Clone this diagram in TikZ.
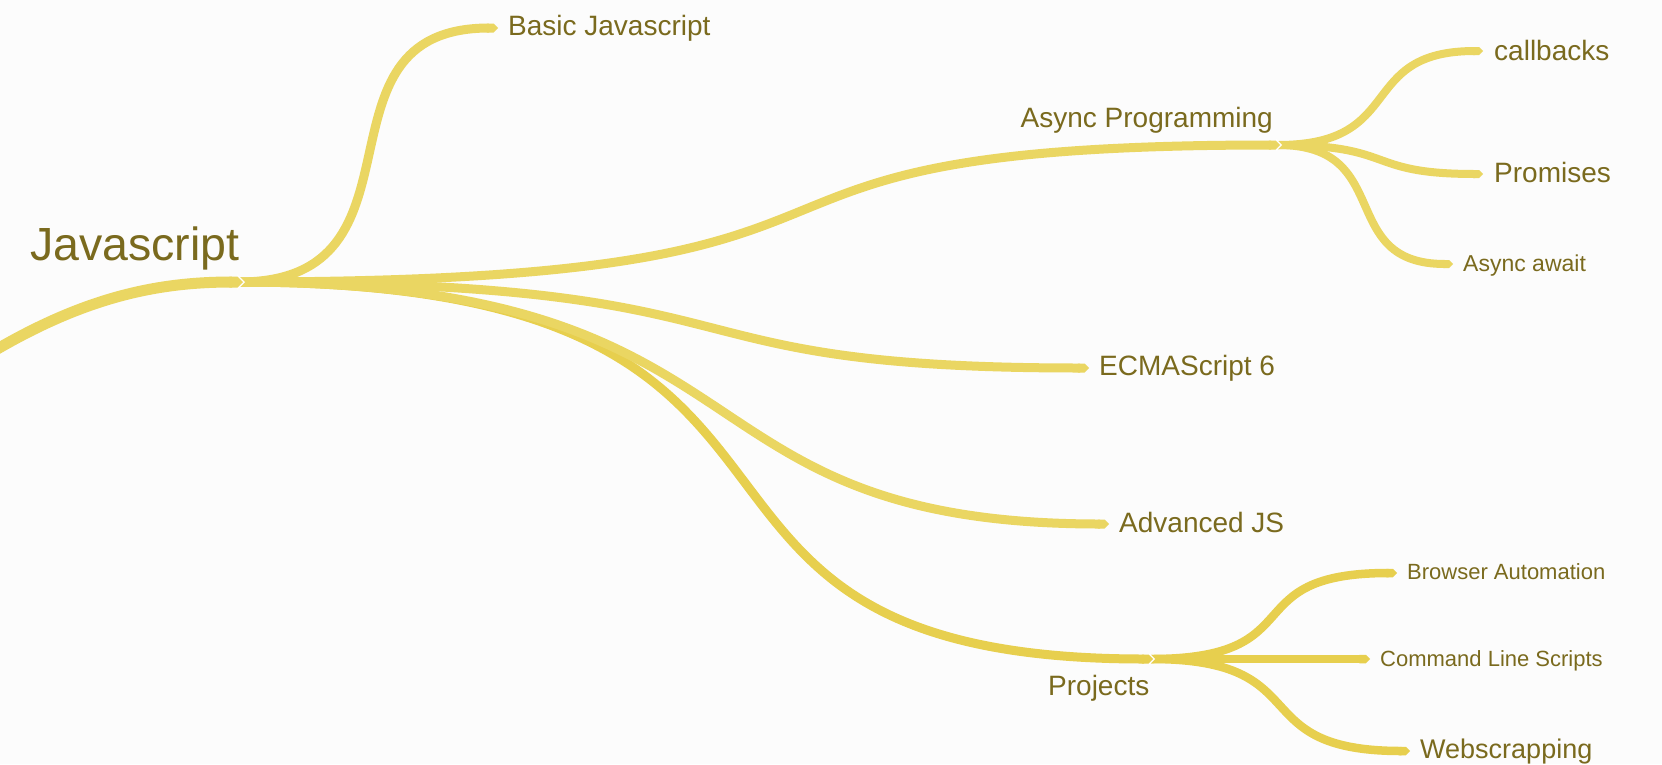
\documentclass[tikz,border=0pt]{standalone}
\usepackage{fontspec}
\setmainfont{Liberation Sans}
\usetikzlibrary{arrows.meta}
\definecolor{bgc}{RGB}{252,252,252}
\definecolor{lnc}{RGB}{234,214,98}
\definecolor{prc}{RGB}{231,207,78}
\definecolor{txc}{RGB}{122,106,30}
\begin{document}
\begin{tikzpicture}[x=1pt,y=-1pt,
  rootln/.style={draw=lnc, line width=11pt, -{Triangle Cap[]}},
  brA/.style={draw=lnc, line width=9pt, -{Triangle Cap[]}},
  brP/.style={draw=prc, line width=9pt, -{Triangle Cap[]}},
  brB/.style={draw=lnc, line width=8pt, -{Triangle Cap[]}},
  brQ/.style={draw=prc, line width=8.5pt, -{Triangle Cap[]}},
  notch/.style={fill=white, draw=none},
  lbl/.style={text=txc, inner sep=0pt, anchor=base west},
  fbig/.style={font=\fontsize{46.5}{50}\selectfont},
  fmid/.style={font=\fontsize{28}{32}\selectfont},
  fsm/.style={font=\fontsize{22}{26}\selectfont},
]
\fill[bgc] (0,0) rectangle (1662,764);
\useasboundingbox (0,0) rectangle (1662,764);
\clip (0,0) rectangle (1662,764);

% junctions and tips
\coordinate (rootS) at (-40,372);
\coordinate (J1) at (243,282);
\coordinate (J1o) at (239,282);
\coordinate (J2) at (1280,145);
\coordinate (J2o) at (1278,145);
\coordinate (J3) at (1153,659);
\coordinate (J3o) at (1151,659);
\coordinate (tBasic) at (498,28);
\coordinate (tEcma) at (1089,368);
\coordinate (tAdv) at (1109,524);
\coordinate (tCall) at (1483,51);
\coordinate (tProm) at (1483,174);
\coordinate (tAwait) at (1453,264);
\coordinate (tBrow) at (1397,573);
\coordinate (tCmd) at (1370,659);
\coordinate (tWeb) at (1410,751);

% labels
\node[lbl, fbig] (js) at (30,260) {Javascript};
\node[lbl, fmid] (basic) at (508,35) {Basic Javascript};
\node[lbl, fmid, anchor=base east] (async) at (1273,127) {Async Programming};
\node[lbl, fmid] (call) at (1494,60) {callbacks};
\node[lbl, fmid] (prom) at (1494,182) {Promises};
\node[lbl, font=\fontsize{23}{27}\selectfont] (await) at (1463,271) {Async await};
\node[lbl, fmid] (ecma) at (1099,375) {ECMAScript 6};
\node[lbl, fmid] (adv) at (1119,532) {Advanced JS};
\node[lbl, fmid] (proj) at (1048,695) {Projects};
\node[lbl, fsm] (brow) at (1407,579) {Browser Automation};
\node[lbl, fsm] (cmd) at (1380,666) {Command Line Scripts};
\node[lbl, font=\fontsize{27}{31}\selectfont] (web) at (1420,758) {Webscrapping};

% second level branches
\draw[brB] (J2o) .. controls +(130,0) and +(-128,0) .. (tCall);
\draw[brB] (J2o) .. controls +(120,0) and +(-120,0) .. (tProm);
\draw[brB] (J2o) .. controls +(118,0) and +(-118,0) .. (tAwait);
\draw[brQ] (J3o) .. controls +(165,0) and +(-165,0) .. (tBrow);
\draw[brQ] (J3o) -- (tCmd);
\draw[brQ] (J3o) .. controls +(170,0) and +(-170,0) .. (tWeb);
\fill[notch] (1276,139) -- (1282,145) -- (1276,151) -- cycle;
\fill[notch] (1149,653) -- (1155,659) -- (1149,665) -- cycle;

% first level branches
\draw[brP] (J1o) .. controls +(677,0) and +(-568,0) .. (J3);
\draw[brA] (J1o) .. controls +(548,0) and +(-449,0) .. (tAdv);
\draw[brA] (J1o) .. controls +(557,0) and +(-456,0) .. (tEcma);
\draw[brA] (J1o) .. controls +(747,0) and +(-650,0) .. (J2);
\draw[brA] (J1o) .. controls +(200,0) and +(-196,0) .. (tBasic);
\fill[notch] (237,274) -- (245,282) -- (237,290) -- cycle;

% root line
\draw[rootln] (rootS) .. controls (70,300) and (150,282) .. (J1);
\end{tikzpicture}
\end{document}
